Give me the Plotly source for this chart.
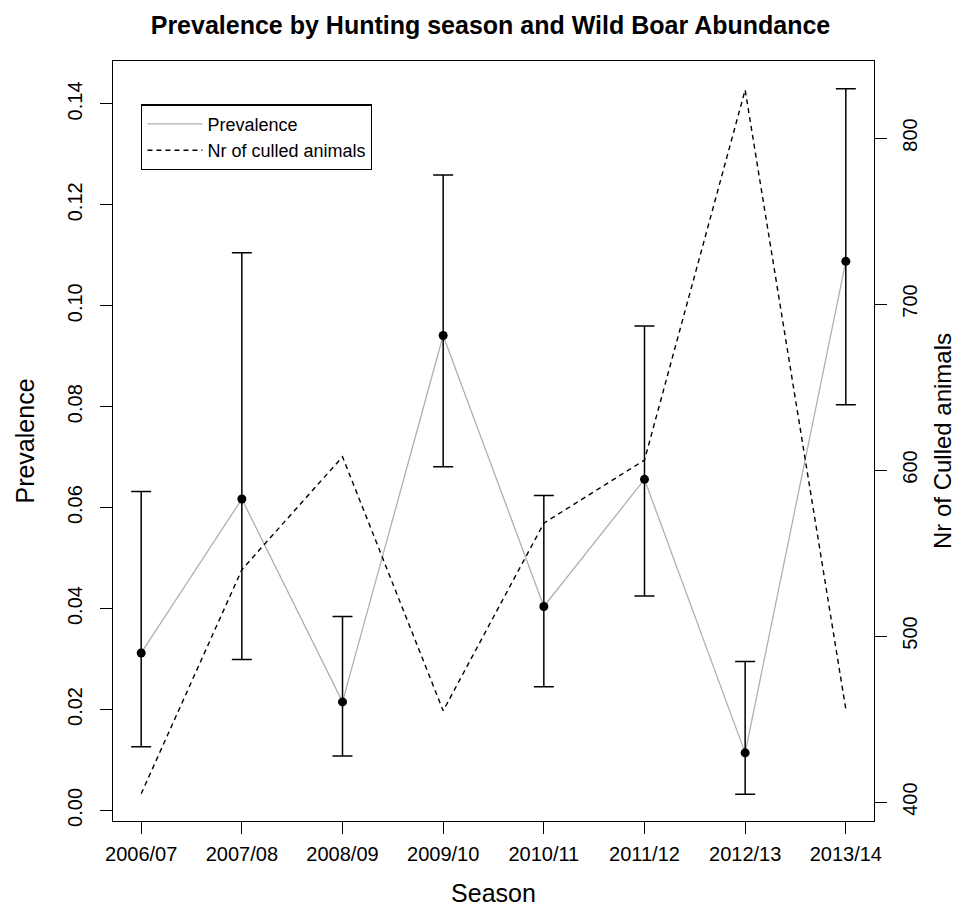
import plotly.graph_objects as go

seasons = ["2006/07", "2007/08", "2008/09", "2009/10", "2010/11", "2011/12", "2012/13", "2013/14"]
prevalence = [0.0312, 0.0617, 0.0215, 0.0941, 0.0404, 0.0656, 0.0114, 0.1088]
ci_upper = [0.0632, 0.1105, 0.0384, 0.1259, 0.0624, 0.0960, 0.0295, 0.1430]
ci_lower = [0.0126, 0.0299, 0.0108, 0.0681, 0.0245, 0.0425, 0.0032, 0.0804]
culled = [405, 540, 608, 455, 568, 606, 829, 456]

prev_ticks = [0.00, 0.02, 0.04, 0.06, 0.08, 0.10, 0.12, 0.14]
prev_ticktext = ["0.00", "0.02", "0.04", "0.06", "0.08", "0.10", "0.12", "0.14"]
culled_ticks = [400, 500, 600, 700, 800]

xs = list(range(1, len(seasons) + 1))
err_plus = [u - p for u, p in zip(ci_upper, prevalence)]
err_minus = [p - l for p, l in zip(prevalence, ci_lower)]

FONT = "Liberation Sans, Arial, sans-serif"

fig = go.Figure()
fig.add_trace(go.Scatter(
    x=xs, y=prevalence, mode="lines", name="Prevalence",
    line=dict(color="#b0b0b0", width=1.3), yaxis="y"))
fig.add_trace(go.Scatter(
    x=xs, y=culled, mode="lines", name="Nr of culled animals",
    line=dict(color="black", width=1.4, dash="5px,4px"), yaxis="y2"))
fig.add_trace(go.Scatter(
    x=xs, y=prevalence, mode="markers", showlegend=False,
    marker=dict(color="black", size=9),
    error_y=dict(type="data", array=err_plus, arrayminus=err_minus,
                 color="black", thickness=1.5, width=10),
    yaxis="y"))

fig.update_layout(
    width=965, height=912,
    margin=dict(l=105, r=99, t=53, b=99),
    paper_bgcolor="white", plot_bgcolor="white",
    font=dict(family=FONT, color="black", size=18),
    title=dict(text="<b>Prevalence by Hunting season and Wild Boar Abundance</b>",
               x=0.5, xanchor="center", y=0.981, yanchor="middle",
               font=dict(size=25, family=FONT)),
    xaxis=dict(
        range=[0.72, 8.28], tickmode="array", tickvals=xs, ticktext=seasons,
        showgrid=False, zeroline=False, showline=True, mirror=True,
        linecolor="black", linewidth=1.3, ticks="outside", ticklen=12,
        tickcolor="black", tickwidth=1.3, tickfont=dict(size=20),
        ticklabelstandoff=3,
        title=dict(text="Season", font=dict(size=25), standoff=20)),
    yaxis=dict(
        range=[-0.0021, 0.1485], tickmode="array",
        tickvals=prev_ticks, ticktext=prev_ticktext,
        tickangle=-90, showgrid=False, zeroline=False, showline=True, mirror=True,
        linecolor="black", linewidth=1.3, ticks="outside", ticklen=12,
        tickcolor="black", tickwidth=1.3, tickfont=dict(size=20),
        ticklabelstandoff=10,
        title=dict(text="Prevalence", font=dict(size=25), standoff=22)),
    yaxis2=dict(
        range=[388.6, 846.4], overlaying="y", side="right",
        tickmode="array", tickvals=culled_ticks,
        tickangle=-90, showgrid=False, zeroline=False, showline=False,
        ticks="outside", ticklen=12, tickcolor="black", tickwidth=1.3,
        tickfont=dict(size=20), ticklabelstandoff=6,
        title=dict(text="Nr of Culled animals", font=dict(size=24), standoff=14)),
    legend=dict(
        x=0.037, y=0.943, xanchor="left", yanchor="top",
        bordercolor="black", borderwidth=1.3, bgcolor="white",
        font=dict(size=18), itemwidth=55, tracegroupgap=0),
    showlegend=True,
)

fig.write_html("out.html")
